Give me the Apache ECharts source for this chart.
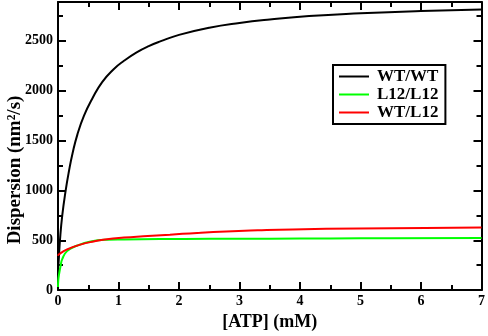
<!DOCTYPE html>
<html>
<head>
<meta charset="utf-8">
<script src="https://cdn.jsdelivr.net/npm/echarts@6/dist/echarts.min.js"></script>
<style>
    html, body { margin: 0; padding: 0; background: #fff; }
    #chart { width: 488px; height: 336px; }
</style>
</head>
<body>
<div id="chart"></div>
<script>
    // values
    var wtX = [0, 0.012, 0.033, 0.07, 0.127, 0.18, 0.24, 0.32, 0.43, 0.57, 0.73, 0.92, 1.09, 1.3, 1.5, 1.7, 2.0, 2.5, 3.0, 3.5, 4.15, 5.0, 6.0, 7];
    var wtY = [200, 300, 505, 747, 1000, 1190, 1370, 1560, 1750, 1925, 2087, 2216, 2300, 2385, 2448, 2497, 2560, 2632, 2680, 2715, 2750, 2777, 2800, 2816];
    var l12X = [0, 0.005, 0.015, 0.044, 0.07, 0.15, 0.32, 0.54, 0.81, 1.09, 1.68, 2.5, 3.5, 4.5, 5.5, 7];
    var l12Y = [30, 100, 150, 246, 311, 391, 447, 488, 505, 508, 512, 514, 516, 518, 520, 522];
    var mixX = [0, 0.016, 0.15, 0.37, 0.59, 0.81, 1.09, 1.41, 1.85, 2.3, 2.78, 3.3, 3.88, 4.98, 6.07, 7];
    var mixY = [345, 360, 408, 456, 488, 511, 527, 540, 556, 574, 589, 600, 609, 618, 624, 628];
    var names = ['WT/WT', 'L12/L12', 'WT/L12'];
    var colors = ['#000000', '#00ff00', '#ff0000'];

    var font = 'Liberation Serif';
    var yMax = 2890;

    function pairs(xs, ys) {
        return xs.map(function (x, i) { return [x, ys[i]]; });
    }

    function xAxisCfg(pos, labels) {
        return {
            type: 'value', position: pos, min: 0, max: 7, interval: 1,
            axisLine: { onZero: false, lineStyle: { color: '#000', width: 2 } },
            axisTick: { inside: true, length: 8, lineStyle: { width: 2, color: '#000' } },
            minorTick: { show: true, splitNumber: 2, length: 5, lineStyle: { width: 2, color: '#000' } },
            axisLabel: { show: labels, margin: 4, fontFamily: font, fontWeight: 'bold', fontSize: 14, color: '#000' },
            splitLine: { show: false },
            name: labels ? '[ATP] (mM)' : '',
            nameLocation: 'middle', nameGap: 17,
            nameTextStyle: { fontFamily: font, fontWeight: 'bold', fontSize: 18, color: '#000', verticalAlign: 'top' }
        };
    }

    function yAxisCfg(pos, step, len, labels, line) {
        return {
            type: 'value', position: pos, min: 0, max: yMax, interval: step,
            axisLine: { show: line, onZero: false, lineStyle: { color: '#000', width: 2 } },
            axisTick: { inside: true, length: len, lineStyle: { width: 2, color: '#000' } },
            axisLabel: {
                show: labels, showMaxLabel: false, margin: 5,
                fontFamily: font, fontWeight: 'bold', fontSize: 14, color: '#000',
                formatter: function (v) { return String(v); }
            },
            splitLine: { show: false }
        };
    }

    var chart = echarts.init(document.getElementById('chart'), null, { renderer: 'canvas' });
    chart.setOption({
        animation: false,
        backgroundColor: '#fff',
        grid: { left: 58, right: 5, top: 2, bottom: 36 },
        xAxis: [xAxisCfg('bottom', true), xAxisCfg('top', false)],
        yAxis: [
            yAxisCfg('left', 500, 8, true, true),
            yAxisCfg('left', 250, 5, false, false),
            yAxisCfg('right', 500, 8, false, true),
            yAxisCfg('right', 250, 5, false, false)
        ],
        legend: {
            data: names,
            orient: 'vertical',
            left: 333, top: 65,
            backgroundColor: '#fff',
            borderColor: '#000', borderWidth: 2, borderRadius: 0,
            padding: [3, 7, 3, 6],
            icon: 'rect',
            itemWidth: 30, itemHeight: 2, itemGap: 1,
            textStyle: { fontFamily: font, fontWeight: 'bold', fontSize: 17, lineHeight: 17, color: '#000', padding: [0, 0, 0, 3] }
        },
        graphic: [{
            type: 'text',
            rotation: Math.PI / 2,
            x: 15, y: 170,
            style: {
                text: 'Dispersion (nm²/s)',
                fontFamily: font, fontWeight: 'bold', fontSize: 19, fill: '#000',
                textAlign: 'center', textVerticalAlign: 'middle'
            }
        }],
        series: [0, 1, 2].map(function (i) {
            var d = [pairs(wtX, wtY), pairs(l12X, l12Y), pairs(mixX, mixY)][i];
            return {
                name: names[i], type: 'line', data: d,
                xAxisIndex: 0, yAxisIndex: 0,
                symbol: 'none', smooth: 0.5,
                lineStyle: { color: colors[i], width: 2 },
                itemStyle: { color: colors[i] }
            };
        })
    });
</script>
</body>
</html>
